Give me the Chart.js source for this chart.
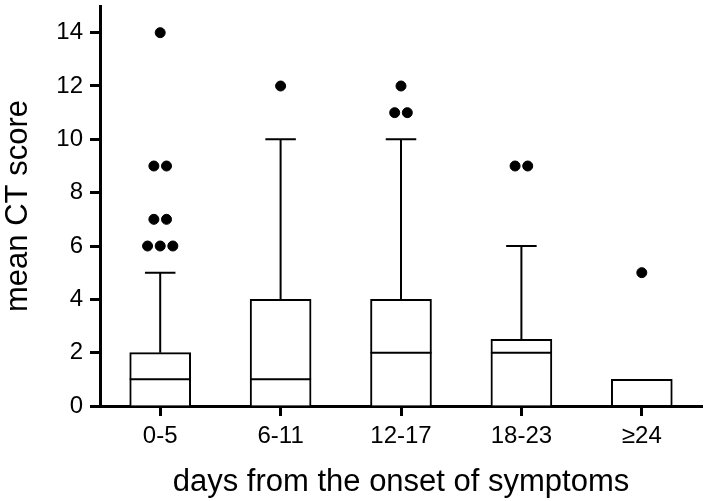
<!DOCTYPE html>
<html>
<head>
<meta charset="utf-8">
<script src="https://cdn.jsdelivr.net/npm/chart.js@4.4.1/dist/chart.umd.min.js"></script>
<style>
  html, body { margin: 0; padding: 0; background: #fff; }
  #wrap { width: 708px; height: 501px; }
</style>
</head>
<body>
<div id="wrap"><canvas id="chart"></canvas></div>
<script>
const categories = ['0-5', '6-11', '12-17', '18-23', '≥24'];
const lowerQuartile = [0, 0, 0, 0, 0];
const upperQuartile = [2, 4, 4, 2.5, 1];
const medians = [1, 1, 2, 2, 0];
const whiskerLow = [0, 0, 0, 0, 0];
const whiskerHigh = [5, 10, 10, 6, 1];
const outliers = [
  [14, 9, 9, 7, 7, 6, 6, 6],
  [12],
  [12, 11, 11],
  [9, 9],
  [5],
];
const yTicks = [0, 2, 4, 6, 8, 10, 12, 14];

const FONT = "'Liberation Sans', Arial, Helvetica, sans-serif";
const DOT_SPREAD = 0.105;

// spread repeated outlier values side by side, like the original plot
function outlierPoints() {
  const points = [];
  outliers.forEach((values, index) => {
    const counts = {};
    values.forEach((v) => { counts[v] = (counts[v] || 0) + 1; });
    Object.keys(counts).forEach((key) => {
      const n = counts[key];
      for (let k = 0; k < n; k++) {
        points.push({ x: index + (k - (n - 1) / 2) * DOT_SPREAD, y: Number(key) });
      }
    });
  });
  return points;
}

const boxPlotPlugin = {
  id: 'boxPlot',
  afterDatasetsDraw(chart) {
    const { ctx, scales } = chart;
    const meta = chart.getDatasetMeta(0);
    ctx.save();
    ctx.strokeStyle = '#000';
    ctx.lineWidth = 2;
    meta.data.forEach((bar, i) => {
      const half = bar.width / 2;
      const cx = bar.x;
      const capHalf = half / 2;
      const yMed = scales.y.getPixelForValue(medians[i]);
      const yQ3 = scales.y.getPixelForValue(upperQuartile[i]);
      const yQ1 = scales.y.getPixelForValue(lowerQuartile[i]);
      const yHi = scales.y.getPixelForValue(whiskerHigh[i]);
      const yLo = scales.y.getPixelForValue(whiskerLow[i]);
      ctx.beginPath();
      ctx.moveTo(cx - half, yMed);
      ctx.lineTo(cx + half, yMed);
      if (whiskerHigh[i] > upperQuartile[i]) {
        ctx.moveTo(cx, yQ3);
        ctx.lineTo(cx, yHi);
        ctx.moveTo(cx - capHalf, yHi);
        ctx.lineTo(cx + capHalf, yHi);
      }
      if (whiskerLow[i] < lowerQuartile[i]) {
        ctx.moveTo(cx, yQ1);
        ctx.lineTo(cx, yLo);
        ctx.moveTo(cx - capHalf, yLo);
        ctx.lineTo(cx + capHalf, yLo);
      }
      ctx.stroke();
    });
    ctx.restore();
  },
};

const axisGrid = {
  drawOnChartArea: false,
  drawTicks: true,
  offset: false,
  tickLength: 10,
  tickWidth: 3,
  tickColor: '#000',
  color: '#000',
};

new Chart(document.getElementById('chart'), {
  data: {
    datasets: [
      {
        type: 'bar',
        data: categories.map((_, i) => ({ x: i, y: [lowerQuartile[i], upperQuartile[i]] })),
        backgroundColor: '#fff',
        borderColor: '#000',
        borderWidth: 2,
        borderSkipped: 'start',
        barThickness: 61,
        order: 1,
      },
      {
        type: 'scatter',
        data: outlierPoints(),
        backgroundColor: '#000',
        borderColor: '#000',
        pointRadius: 5,
        pointHoverRadius: 5,
        order: 0,
      },
    ],
  },
  plugins: [boxPlotPlugin],
  options: {
    responsive: true,
    maintainAspectRatio: false,
    animation: false,
    layout: { padding: { top: 4, right: 5, left: 0, bottom: 0 } },
    plugins: { legend: { display: false }, tooltip: { enabled: false } },
    scales: {
      x: {
        type: 'linear',
        offset: false,
        min: -0.5,
        max: categories.length - 0.5,
        afterBuildTicks(scale) {
          scale.ticks = categories.map((_, i) => ({ value: i }));
        },
        afterFit(scale) {
          scale.height = 95;
          scale.paddingLeft = 0;
          scale.paddingRight = 0;
        },
        ticks: {
          callback: (value) => categories[value],
          color: '#000',
          font: { family: FONT, size: 24 },
          padding: 6,
          maxRotation: 0,
          autoSkip: false,
        },
        grid: axisGrid,
        border: { display: true, width: 3, color: '#000' },
        title: {
          display: true,
          text: 'days from the onset of symptoms',
          color: '#000',
          font: { family: FONT, size: 31 },
          padding: { top: 0, bottom: 0 },
        },
      },
      y: {
        type: 'linear',
        min: 0,
        max: 15,
        afterBuildTicks(scale) {
          scale.ticks = yTicks.map((v) => ({ value: v }));
        },
        afterFit(scale) {
          scale.width = 100;
          scale.paddingTop = 0;
          scale.paddingBottom = 0;
        },
        ticks: {
          color: '#000',
          font: { family: FONT, size: 24 },
          padding: 7,
        },
        grid: axisGrid,
        border: { display: true, width: 3, color: '#000' },
        title: {
          display: true,
          text: 'mean CT score',
          color: '#000',
          font: { family: FONT, size: 31 },
          padding: { top: 0, bottom: 0 },
        },
      },
    },
  },
});
</script>
</body>
</html>
